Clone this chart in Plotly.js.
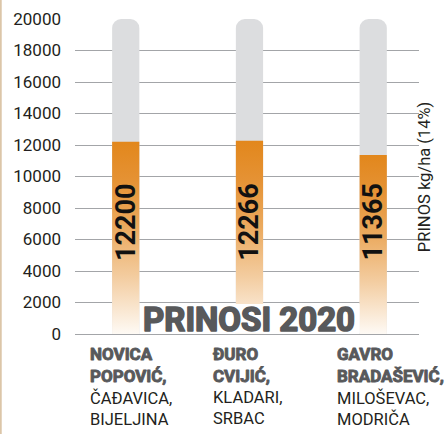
<!DOCTYPE html>
<html>
<head>
<meta charset="utf-8">
<script src="https://cdn.plot.ly/plotly-3.0.1.min.js"></script>
<style>
  html, body { margin: 0; padding: 0; background: #fff; }
  #chart { width: 446px; height: 434px; }
</style>
</head>
<body>
<div id="chart"></div>
<script>
  // podaci: prinosi 2020 (kg/ha, 14% vlage)
  const growers = ['Novica Popović', 'Đuro Cvijić', 'Gavro Bradašević'];
  const growerLabels = ['NOVICA<br>POPOVIĆ,', 'ĐURO<br>CVIJIĆ,', 'GAVRO<br>BRADAŠEVIĆ,'];
  const places = ['ČAĐAVICA,<br>BIJELJINA', 'KLADARI,<br>SRBAC', 'MILOŠEVAC,<br>MODRIČA'];
  const yields = [12200, 12266, 11365];
  const trackMax = [20000, 20000, 20000];
  const yTicks = [0, 2000, 4000, 6000, 8000, 10000, 12000, 14000, 16000, 18000, 20000];

  const LABEL_Y = 7100;   // visina teksta u stubu
  const sans = 'Roboto, sans-serif';

  const data = [
    {
      type: 'bar', x: growers, y: trackMax,
      marker: { color: '#dcdddf', cornerradius: 9 },
      hoverinfo: 'skip'
    },
    {
      type: 'bar', x: growers, y: yields,
      marker: { color: '#e2871c', cornerradius: 7 },
      hoverinfo: 'skip'
    }
  ];

  const annotations = [];
  growers.forEach((g, i) => {
    // vrijednost u stubu
    annotations.push({
      xref: 'x', yref: 'y', x: g, y: LABEL_Y, text: String(yields[i]),
      textangle: -90, showarrow: false,
      font: { family: sans, size: 27, color: '#111', weight: 700 }
    });
    // ime proizvođača
    annotations.push({
      xref: 'x', yref: 'paper', x: g, y: 0, xanchor: 'left', yanchor: 'top',
      xshift: -38, yshift: -8, align: 'left', showarrow: false,
      text: growerLabels[i],
      font: { family: sans, size: 17, color: '#58595b', weight: 700 }
    });
    // mjesto
    annotations.push({
      xref: 'x', yref: 'paper', x: g, y: 0, xanchor: 'left', yanchor: 'top',
      xshift: -38, yshift: -52, align: 'left', showarrow: false,
      text: places[i],
      font: { family: sans, size: 16.5, color: '#231f20' }
    });
  });

  annotations.push({
    xref: 'x', yref: 'y', x: growers[1], y: 0, yanchor: 'bottom', yshift: -7,
    text: 'PRINOSI 2020', showarrow: false,
    font: { family: sans, size: 33, color: '#58595b', weight: 700 }
  });
  annotations.push({
    xref: 'paper', yref: 'paper', x: 1.05, y: 0.5, textangle: -90, showarrow: false,
    text: 'PRINOS kg/ha (14%)',
    font: { family: sans, size: 16.5, color: '#231f20' }
  });

  const layout = {
    width: 446, height: 434,
    margin: { l: 75, r: 27, t: 19, b: 100 },
    paper_bgcolor: '#fff', plot_bgcolor: '#fff',
    barmode: 'overlay', bargap: 0.78,
    showlegend: false,
    xaxis: {
      type: 'category', range: [-0.41, 2.37], showticklabels: false,
      showgrid: false, zeroline: false, showline: false, fixedrange: true
    },
    yaxis: {
      range: [0, 20000], tickvals: yTicks, ticktext: yTicks.map(String),
      showgrid: true, gridcolor: '#a3a5a8', gridwidth: 1,
      zeroline: true, zerolinecolor: '#a3a5a8', zerolinewidth: 1,
      showline: false, ticks: '', ticklabelstandoff: 13,
      tickfont: { family: sans, size: 17, color: '#231f20' }
    },
    shapes: [
      // bijela podloga naslova
      { type: 'rect', xref: 'x', yref: 'y', x0: 0.117, x1: 1.89, y0: 60, y1: 1900,
        fillcolor: '#fff', line: { width: 0 }, layer: 'above' },
      // tanka traka na lijevoj ivici
      { type: 'rect', xref: 'paper', yref: 'paper', x0: -0.218, x1: -0.213, y0: -0.32, y1: 1.07,
        fillcolor: '#dcc6a8', line: { width: 0 }, layer: 'below' }
    ],
    annotations: annotations
  };

  Plotly.newPlot('chart', data, layout, { staticPlot: true, displayModeBar: false }).then(gd => {
    // gradijent za narandžaste stubove (Plotly nema gradient za bar)
    const NS = 'http://www.w3.org/2000/svg';
    const svg = gd.querySelector('svg.main-svg');
    let defs = svg.querySelector('defs');
    if (!defs) { defs = document.createElementNS(NS, 'defs'); svg.insertBefore(defs, svg.firstChild); }
    const grad = document.createElementNS(NS, 'linearGradient');
    grad.setAttribute('id', 'yieldGrad');
    grad.setAttribute('x1', '0'); grad.setAttribute('y1', '0');
    grad.setAttribute('x2', '0'); grad.setAttribute('y2', '1');
    [[0, '#e2871c'], [0.2, '#e59234'], [0.45, '#ebaa5f'], [0.7, '#f3cc9f'], [1, '#fefaf5']].forEach(s => {
      const st = document.createElementNS(NS, 'stop');
      st.setAttribute('offset', s[0]);
      st.setAttribute('stop-color', s[1]);
      grad.appendChild(st);
    });
    defs.appendChild(grad);
    const traces = gd.querySelectorAll('.barlayer .trace');
    if (traces[1]) traces[1].querySelectorAll('path').forEach(p => { p.style.fill = 'url(#yieldGrad)'; });

    // deblji sivi naslovi (nema crnog reza fonta)
    gd.querySelectorAll('.annotation-text').forEach(t => {
      const s = t.textContent;
      let w = 0;
      if (s === 'PRINOSI 2020') w = 1.6;
      else if (growerLabels.some(l => l.replace('<br>', '') === s)) w = 0.9;
      if (w) {
        t.style.stroke = '#58595b';
        t.style.strokeWidth = w + 'px';
        t.style.paintOrder = 'stroke';
        t.style.strokeLinejoin = 'round';
      }
    });
  });
</script>
</body>
</html>
